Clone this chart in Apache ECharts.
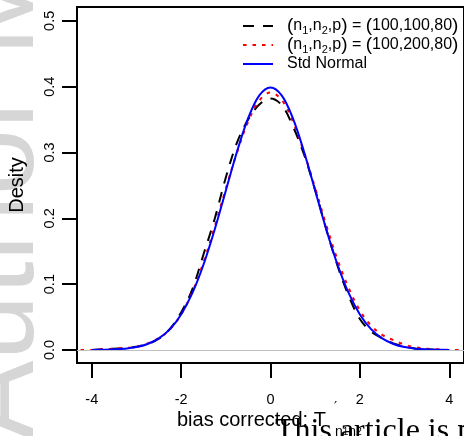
<!DOCTYPE html>
<html><head><meta charset="utf-8">
<script src="https://cdn.jsdelivr.net/npm/echarts@6/dist/echarts.min.js"></script>
<style>html,body{margin:0;padding:0;background:#fff}#c{width:464px;height:436px}</style>
</head><body><div id="c"></div>
<script>
// shared x grid
const xGrid = [-4.25,-4,-3.75,-3.5,-3.25,-3,-2.75,-2.5,-2.25,-2,-1.75,-1.5,-1.25,-1,-0.75,-0.5,-0.25,0,0.25,0.5,0.75,1,1.25,1.5,1.75,2,2.25,2.5,2.75,3,3.25,3.5,3.75,4,4.25];
// (n1,n2,p) = (100,100,80)  black dashed
const dens100_100 = [null,0.000,0.001,0.002,0.003,0.005,0.009,0.017,0.032,0.057,0.092,0.145,0.199,0.262,0.315,0.350,0.373,0.382,0.372,0.340,0.297,0.243,0.183,0.128,0.082,0.047,0.028,0.018,0.010,0.005,0.002,0.001,0.000,0.000,null];
// (n1,n2,p) = (100,200,80)  red dotted
const dens100_200 = [0.000,0.000,0.001,0.002,0.003,0.005,0.010,0.018,0.031,0.054,0.088,0.133,0.187,0.245,0.300,0.347,0.379,0.391,0.380,0.347,0.300,0.246,0.189,0.137,0.094,0.060,0.037,0.023,0.015,0.008,0.004,0.002,0.001,0.000,0.000];
// Std Normal  blue solid
const stdNormal = [null,0.0001,0.0004,0.0009,0.0020,0.0044,0.0091,0.0175,0.0317,0.0540,0.0863,0.1295,0.1826,0.2420,0.3011,0.3521,0.3867,0.3989,0.3867,0.3521,0.3011,0.2420,0.1826,0.1295,0.0863,0.0540,0.0317,0.0175,0.0091,0.0044,0.0020,0.0009,0.0004,0.0001,null];
const xTicks = [-4,-2,0,2,4];
const yTicks = [0,0.1,0.2,0.3,0.4,0.5];
const seriesNames = ['(n1,n2,p) = (100,100,80)','(n1,n2,p) = (100,200,80)','Std Normal'];

const pairs = arr => xGrid.map((x,i)=>[x,arr[i]]);
const F = '"Liberation Sans", Arial, sans-serif';

const chart = echarts.init(document.getElementById('c'), null, {renderer:'canvas'});
chart.setOption({
  animation:false,
  backgroundColor:'#fff',
  grid:{left:77, top:7, width:388, height:356, show:true, borderColor:'#000', borderWidth:2, backgroundColor:'transparent'},
  xAxis:{type:'value', min:-4.33, max:4.33, position:'bottom',
    axisLine:{show:false, onZero:false}, splitLine:{show:false},
    axisTick:{show:true, customValues:xTicks, length:15, inside:false, lineStyle:{color:'#000', width:2}},
    axisLabel:{show:true, customValues:xTicks, margin:29, color:'#000', fontSize:14.5, fontFamily:F}},
  yAxis:{type:'value', min:-0.0198, max:0.521, position:'left',
    axisLine:{show:false, onZero:false}, splitLine:{show:false},
    axisTick:{show:true, customValues:yTicks, length:15, inside:false, lineStyle:{color:'#000', width:2}},
    axisLabel:{show:true, customValues:yTicks, margin:20, rotate:90, color:'#000', fontSize:14.5, fontFamily:F, formatter:v=>Number(v).toFixed(1)}},
  series:[
    {type:'line', name:'zero', data:[], z:1, silent:true,
     markLine:{silent:true, symbol:['none','none'], label:{show:false}, lineStyle:{color:'#c0c0c0', type:'solid', width:1}, data:[{yAxis:0}]}},
    {type:'line', name:seriesNames[0], data:pairs(dens100_100), showSymbol:false, symbol:'none', smooth:0.35, z:2,
     lineStyle:{color:'#000', width:2, type:[11,9]}},
    {type:'line', name:seriesNames[1], data:pairs(dens100_200), showSymbol:false, symbol:'none', smooth:0.35, z:3,
     lineStyle:{color:'#ff0000', width:2, type:[3.5,6]}},
    {type:'line', name:seriesNames[2], data:pairs(stdNormal), showSymbol:false, symbol:'none', smooth:0.35, z:4,
     lineStyle:{color:'#0000ff', width:2, type:'solid'}}
  ],
  graphic:[
    // watermark
    {type:'text', x:0, y:440, rotation:Math.PI/2, z:-10, silent:true,
     style:{text:'Author Manuscript', x:0, y:0, textAlign:'left', textVerticalAlign:'middle', fill:'#d6d6d6', font:'119px '+F}},
    // y title
    {type:'text', x:17, y:185, rotation:Math.PI/2, style:{text:'Desity', textAlign:'center', textVerticalAlign:'middle', fill:'#000', font:'20px '+F}},
    // x title
    {type:'text', x:177, y:420, style:{text:'bias corrected: T', textAlign:'left', textVerticalAlign:'middle', fill:'#000', font:'20px '+F}},
    {type:'text', x:334, y:407, style:{text:'\u2032', textAlign:'left', textVerticalAlign:'middle', fill:'#000', font:'14px "DejaVu Sans", sans-serif'}},
    {type:'text', x:335, y:432, style:{text:'n{d|1}n{d|2}', textAlign:'left', textVerticalAlign:'middle', fill:'#000', font:'14px '+F,
      rich:{d:{fontSize:10, fontFamily:'Liberation Sans', fill:'#000'}}}},
    // legend lines
    {type:'line', shape:{x1:243,y1:26,x2:273,y2:26}, style:{stroke:'#000', lineWidth:2, lineDash:[11,9]}},
    {type:'line', shape:{x1:243,y1:45,x2:273,y2:45}, style:{stroke:'#ff0000', lineWidth:2, lineDash:[3.5,6]}},
    {type:'line', shape:{x1:243,y1:64,x2:273,y2:64}, style:{stroke:'#0000ff', lineWidth:2}},
    // legend texts
    {type:'text', x:287, y:26, style:{text:'{p|(}n{s|1},n{s|2},p{p|)} = {p|(}100,100,80{p|)}', textAlign:'left', textVerticalAlign:'middle', fill:'#000', font:'16px '+F, lineHeight:20,
      rich:{s:{fontSize:11, lineHeight:11, verticalAlign:'bottom', fontFamily:'Liberation Sans'}, p:{fontSize:19, lineHeight:20, fontFamily:'Liberation Sans'}}}},
    {type:'text', x:287, y:45, style:{text:'{p|(}n{s|1},n{s|2},p{p|)} = {p|(}100,200,80{p|)}', textAlign:'left', textVerticalAlign:'middle', fill:'#000', font:'16px '+F, lineHeight:20,
      rich:{s:{fontSize:11, lineHeight:11, verticalAlign:'bottom', fontFamily:'Liberation Sans'}, p:{fontSize:19, lineHeight:20, fontFamily:'Liberation Sans'}}}},
    {type:'text', x:287, y:64, style:{text:'Std Normal', textAlign:'left', textVerticalAlign:'middle', fill:'#000', font:'16px '+F}},
    // footer overlay
    {type:'text', x:275, y:432, z:100, style:{text:'This article is protected by copyright. All rights reserved', textAlign:'left', textVerticalAlign:'middle', fill:'#000', font:'32px "Liberation Serif", "Times New Roman", serif'}}
  ]
});
</script></body></html>
